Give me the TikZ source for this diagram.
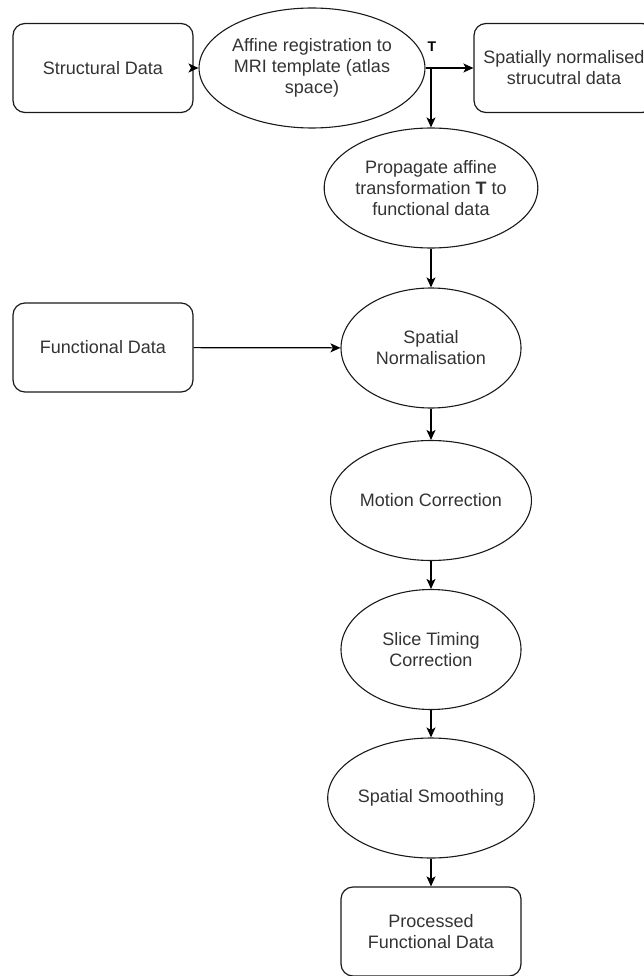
\documentclass[tikz,border=0pt]{standalone}
\usepackage{fontspec}
\setmainfont{Liberation Sans}
\usetikzlibrary{shapes.geometric,arrows.meta}
\definecolor{txt}{HTML}{333333}
\definecolor{edge}{HTML}{1A1A1A}
\begin{document}
\begin{tikzpicture}[x=1pt,y=-1pt,
  base/.style={draw=edge,line width=1.2pt,text=txt,align=center,inner sep=0pt,
    font=\fontsize{18}{21}\selectfont},
  databox/.style={base,rounded corners=12pt,minimum width=180pt,minimum height=89pt},
  procell/.style={base,ellipse,line width=1.1pt,minimum width=180pt,minimum height=120pt},
  flow/.style={draw=black,line width=1.2pt,-{Stealth[length=10pt,width=9pt,inset=2.5pt]}}
]
\useasboundingbox (0,0) rectangle (644,976);

% input boxes
\node[databox] (struct) at (103,68) {Structural Data};
\node[databox] (func) at (103,347.5) {Functional Data};

% registration branch
\node[procell] (aff) at (312,68) {Affine registration to\\MRI template (atlas\\space)};
\node[databox] (norm) at (564,68) {Spatially normalised\\strucutral data};
\node[procell] (prop) at (431,188) {Propagate affine\\transformation \textbf{T} to\\functional data};

% functional pipeline
\node[procell] (snorm) at (431,348) {Spatial\\Normalisation};
\node[procell] (moco) at (431,500.5) {Motion Correction};
\node[procell] (stc) at (431,649.5) {Slice Timing\\Correction};
\node[procell] (smooth) at (431,798) {Spatial Smoothing};
\node[databox] (out) at (431,931.5) {Processed\\Functional Data};

% connectors
\coordinate (split) at (prop.north |- aff.east);
\draw[flow] (struct) -- (aff);
\draw[flow] (aff) -- (norm);
\draw[flow] (split) -- (prop);
\node[font=\fontsize{14}{16}\selectfont\bfseries,text=black] (tlabel) at (432,47) {T};
\draw[flow] (prop) -- (snorm);
\draw[flow] (func) -- (snorm);
\draw[flow] (snorm) -- (moco);
\draw[flow] (moco) -- (stc);
\draw[flow] (stc) -- (smooth);
\draw[flow] (smooth) -- (out);
\end{tikzpicture}
\end{document}
